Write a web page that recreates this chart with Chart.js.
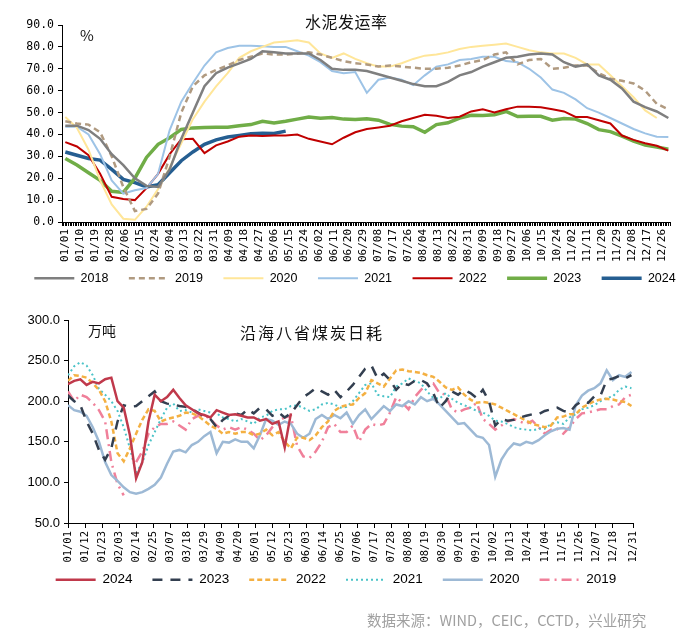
<!DOCTYPE html>
<html>
<head>
<meta charset="utf-8">
<script src="https://cdn.jsdelivr.net/npm/chart.js@4.4.1/dist/chart.umd.min.js"></script>
<style>
  body { margin: 0; background: #fff; }
  #page { position: relative; width: 700px; height: 643px; overflow: hidden; background: #fff; }
  canvas { position: absolute; left: 0; }
  #c1 { top: 0; }
  #c2 { top: 300px; }
  .txt { position: absolute; font-family: "Noto Sans CJK SC", sans-serif; color: #111; white-space: nowrap; line-height: 1; }
</style>
</head>
<body>
<div id="page">
  <canvas id="c1" width="700" height="300"></canvas>
  <canvas id="c2" width="700" height="310"></canvas>
  <div class="txt" style="left:305px;top:13px;font-size:16px;letter-spacing:0.5px;">水泥发运率</div>
  <div class="txt" style="left:80px;top:27px;font-size:15px;">%</div>
  <div class="txt" style="left:240px;top:324px;font-size:16px;letter-spacing:2px;">沿海八省煤炭日耗</div>
  <div class="txt" style="left:88px;top:323px;font-size:14px;">万吨</div>
  <div class="txt" style="left:367px;top:613px;font-size:14.5px;color:#a0a0a0;">数据来源：WIND，CEIC，CCTD，兴业研究</div>
</div>
<script>
// ---- top chart: cement shipment rate (%), weekly points, x = day of year
const TOP_DAYS = [0,7,14,21,28,35,42,49,56,63,70,77,84,91,98,105,112,119,126,133,140,147,154,161,168,175,182,189,196,203,210,217,224,231,238,245,252,259,266,273,280,287,294,301,308,315,322,329,336,343,350,357,364];
const TOP_TICK_LABELS = ['01/01','01/10','01/19','01/28','02/06','02/15','02/24','03/04','03/13','03/22','03/31','04/09','04/18','04/27','05/06','05/15','05/24','06/02','06/11','06/20','06/29','07/08','07/17','07/26','08/04','08/13','08/22','08/31','09/09','09/18','09/27','10/06','10/15','10/24','11/02','11/11','11/20','11/29','12/08','12/17','12/26'];

const CEMENT_2018 = [44,44,42,38,31,26,20,16.5,16,24,38,50,62,68,70.5,72.5,74.5,78,77.5,77,77,77,74,70,69.5,69.5,69,67.5,66,64.5,63,62,62,64,67,68.5,71,73,75,75.5,76.5,77,76.5,73,71,72,67,65,61,55,52.5,50.5,47.5];
const CEMENT_2019 = [46,45,44.5,41,30,16,5,6,13,30,50,62,67,69.5,71.5,74,75.5,77,76.5,76.5,77,77.5,76.5,75,73.5,72.5,72,71,71.5,71,70.5,70,70,70.5,71.5,73,74,76.5,77.5,72,74,74.5,70,70.5,71.5,71.5,68,65.5,64.5,63.3,60,54,51.5];
const CEMENT_2020 = [48,43,33,19,8,1.5,1,7,15,25,36,47,55,62,68,75,78,80,82,82.5,83,82,77,75,77,74.5,72.5,71,71,72.5,74.5,76,76.5,77.5,79,80,80.5,81,81.5,80,78.5,77.5,77,77,75,72,72,67,62,57,51,47.5,null];
const CEMENT_2021 = [43.5,43.5,40,31,19,13,14.5,15.5,22,42,55,63.5,71.5,77.5,79.5,80.5,80.5,80.3,80,80,78,76,73,69,68,68.5,59,65,66,65,62.5,67,71,72,74,74.5,75.5,75.5,73.5,73,70,66,60.5,59,56,52,50,47.5,45,42.5,40.5,39,38.8];
const CEMENT_2022 = [36.5,34.5,30.5,22,11.5,10.5,10,15.5,22,31,37.8,38,31.5,35,36.8,39,39.5,39.3,39.5,39.5,40,38,36.8,35.5,38.5,41,42.5,43.2,44,46,47.5,49,48.5,47.5,48.1,50.5,51.5,50,51.5,52.7,52.6,52.4,51.5,50.5,48,48,46.5,45,39.5,37.5,36,34.8,32.6];
const CEMENT_2023 = [29,26,22.5,19,14,13.5,20,29.5,35.5,38.5,42.3,43,43.2,43.3,43.3,44,44.5,46,45.2,46,47,48,47.4,47.7,47,46.8,47.2,46.5,44.6,43.8,43.5,41,44.5,45.3,47.5,48.8,48.6,49,50.5,48.2,48.3,48.3,46.5,47.3,47,45,42.2,41.3,39.2,37,35.2,34.3,33.2];
const CEMENT_2024 = [32,30.5,29,28.3,24,19.5,18,16,17,22.5,28,32,35.5,37.5,38.8,39.5,40.3,40.5,40.4,41.5];

// ---- bottom chart: coastal 8 provinces daily coal burn (10k t), every 4 days
const BOTTOM_DAYS = [0,4,8,12,16,20,24,28,32,36,40,44,48,52,56,60,64,68,72,76,80,84,88,92,96,100,104,108,112,116,120,124,128,132,136,140,144,148,152,156,160,164,168,172,176,180,184,188,192,196,200,204,208,212,216,220,224,228,232,236,240,244,248,252,256,260,264,268,272,276,280,284,288,292,296,300,304,308,312,316,320,324,328,332,336,340,344,348,352,356,360,364];
const BOTTOM_TICK_DAYS = [0,11,22,33,44,55,66,77,88,99,110,121,132,143,154,165,176,187,198,209,220,231,242,253,264,275,286,297,308,319,330,341,352,365];
const BOTTOM_TICK_LABELS = ['01/01','01/12','01/23','02/03','02/14','02/25','03/07','03/18','03/29','04/09','04/20','05/01','05/12','05/23','06/03','06/14','06/25','07/06','07/17','07/28','08/08','08/19','08/30','09/10','09/21','10/02','10/13','10/24','11/04','11/15','11/26','12/07','12/18','12/31'];

const COAL_2024 = [221,225,227,220,224,222,227,229,200,192,
  158,105,125,175,208,200,205,214,204,195,
  190,185,183,180,189,186,183,184,182,180,
  180,176,178,172,175,143,185];
const COAL_2023 = [207,200,195,175,160,140,128,142,175,195,
  193,194,200,206,212,200,197,196,194,193,
  190,186,181,178,168,177,182,185,183,190,
  185,192,190,182,186,180,185,195,205,210,
  216,212,208,214,205,212,220,230,240,244,
  228,234,226,214,222,220,225,226,222,210,
  192,200,212,208,214,210,204,214,200,170,
  178,176,177,180,182,184,184,188,190,192,
  188,186,195,200,198,206,207,226,228,231,
  228,232];
const COAL_2022 = [225,232,231,229,222,214,200,175,136,126,
  142,160,177,190,188,175,178,180,182,186,
  185,182,176,170,166,160,162,160,162,162,
  158,160,165,158,162,150,142,155,155,152,
  158,168,175,188,193,195,196,204,210,226,
  222,218,228,238,239,237,236,235,232,230,
  224,217,214,217,208,202,198,199,198,196,
  192,188,184,180,176,172,170,168,170,180,
  181,184,184,192,196,200,202,203,202,200,
  199,194];
const COAL_2021 = [232,243,248,244,232,215,208,200,188,168,
  142,112,124,146,162,178,192,197,188,189,
  186,190,188,186,185,180,178,175,178,175,
  172,180,182,188,190,190,194,195,192,188,
  190,196,198,196,192,193,200,210,220,222,
  208,206,205,218,222,228,225,222,212,204,
  203,210,203,198,195,192,188,186,182,176,
  175,172,168,166,165,164,166,166,172,174,
  172,180,184,190,192,195,200,204,206,214,
  218,216];
const COAL_2020 = [195,189,187,182,168,150,125,109,102,94,
  88,86,88,92,97,106,123,138,140,137,
  146,150,157,162,136,150,149,153,150,150,
  142,158,178,176,171,175,172,160,155,160,
  178,183,178,183,179,186,172,183,190,178,
  186,194,188,196,194,200,196,205,200,203,
  196,188,180,172,173,165,157,155,146,107,
  128,140,148,146,150,148,152,158,163,166,
  167,165,195,207,213,216,222,238,226,232,
  230,236];
const COAL_2019 = [212,200,208,205,198,189,175,125,98,84,
  null,125,138,160,168,172,172,175,170,165,
  178,182,183,178,170,165,168,165,168,165,
  160,152,158,168,176,180,182,145,132,130,
  138,150,168,172,162,162,170,150,165,172,
  170,172,186,205,198,190,205,214,220,222,
  210,208,190,186,190,192,198,178,172,165,
  170,175,178,175,172,176,168,160,165,166,
  160,168,178,185,186,188,190,190,194,196,
  205,208];

const MONO = "'DejaVu Sans Mono', monospace";
const SANS = "'Liberation Sans', Arial, sans-serif";

function pts(days, vals) {
  return vals.map((v, i) => ({ x: days[i], y: v }));
}

function line(label, days, vals, color, width, dash) {
  return {
    label, data: pts(days, vals), borderColor: color, backgroundColor: color,
    borderWidth: width, borderDash: dash || [], pointRadius: 0, tension: 0, fill: false
  };
}

// legend shows each dataset's own stroke (dash, width)
function legendLabels(chart) {
  return chart.data.datasets.map((ds, i) => ({
    text: ds.label, datasetIndex: i, strokeStyle: ds.borderColor, fillStyle: ds.borderColor,
    lineWidth: ds.borderWidth, lineDash: ds.borderDash, pointStyle: 'line', fontColor: '#000'
  }));
}

function legendOpts(fontSize, pad) {
  return {
    position: 'bottom',
    labels: {
      usePointStyle: true, pointStyleWidth: 40, padding: pad, color: '#000',
      font: { family: SANS, size: fontSize }, generateLabels: legendLabels
    }
  };
}

// x axis box is kept short so the legend sits close; labels may run past it
function shortAxis(h) {
  return s => { s.height = h; s._computeLabelArea = () => null; };
}

// empty axis on the right, only reserves space so the plot ends where it should
function spacer(w) {
  return {
    position: 'right', display: true,
    afterFit: s => { s.width = w; },
    ticks: { display: false }, grid: { display: false }, border: { display: false }
  };
}

Chart.defaults.animation = false;

// Top chart
new Chart(document.getElementById('c1'), {
  type: 'line',
  data: {
    datasets: [
      line('2018', TOP_DAYS, CEMENT_2018, '#7f7f7f', 2.5),
      line('2019', TOP_DAYS, CEMENT_2019, '#b09a80', 2.5, [6, 4]),
      line('2020', TOP_DAYS, CEMENT_2020, '#ffe699', 2),
      line('2021', TOP_DAYS, CEMENT_2021, '#9dc3e6', 2),
      line('2022', TOP_DAYS, CEMENT_2022, '#c00000', 2),
      line('2023', TOP_DAYS, CEMENT_2023, '#70ad47', 3.5),
      line('2024', TOP_DAYS, CEMENT_2024, '#255e91', 3.5)
    ]
  },
  options: {
    responsive: false,
    events: [],
    layout: { padding: { left: 10, right: 0, top: 25, bottom: 5.5 } },
    plugins: { legend: legendOpts(12.5, 20.5), tooltip: { enabled: false } },
    scales: {
      x: {
        type: 'linear', min: -2, max: 365,
        afterFit: shortAxis(29.5),
        ticks: {
          stepSize: 1, autoSkip: false, minRotation: 90, maxRotation: 90, padding: 3,
          color: '#000', font: { family: MONO, size: 11 },
          callback: v => (v >= 0 && v % 9 === 0 && TOP_TICK_LABELS[v / 9]) || ''
        },
        grid: { drawOnChartArea: false, tickLength: 4, color: '#000' },
        border: { color: '#000' }
      },
      y: {
        min: 0, max: 90,
        afterFit: s => { s.width = 52; },
        ticks: { stepSize: 10, padding: 4, color: '#000', font: { family: MONO, size: 11.5 }, callback: v => v.toFixed(1) },
        grid: { drawOnChartArea: false, tickLength: 4, color: '#000' },
        border: { color: '#000' }
      },
      pad: spacer(30)
    }
  }
});

// Bottom chart
new Chart(document.getElementById('c2'), {
  type: 'line',
  data: {
    datasets: [
      line('2024', BOTTOM_DAYS, COAL_2024, '#c0394b', 2.5),
      line('2023', BOTTOM_DAYS, COAL_2023, '#333f50', 2.5, [10, 8]),
      line('2022', BOTTOM_DAYS, COAL_2022, '#f4b042', 2.5, [5, 3]),
      line('2021', BOTTOM_DAYS, COAL_2021, '#4bc3c8', 2, [2, 3]),
      line('2020', BOTTOM_DAYS, COAL_2020, '#9db9d5', 2.5),
      line('2019', BOTTOM_DAYS, COAL_2019, '#f0809a', 2.5, [10, 5, 2, 5])
    ]
  },
  options: {
    responsive: false,
    events: [],
    layout: { padding: { left: 0, right: 28, top: 20, bottom: 13.5 } },
    plugins: { legend: legendOpts(13.5, 20), tooltip: { enabled: false } },
    scales: {
      x: {
        type: 'linear', min: 0, max: 365,
        afterFit: shortAxis(30),
        afterBuildTicks: s => { s.ticks = BOTTOM_TICK_DAYS.map(v => ({ value: v })); },
        ticks: {
          autoSkip: false, minRotation: 90, maxRotation: 90, padding: 3,
          color: '#000', font: { family: MONO, size: 10.5 },
          callback: (v, i) => BOTTOM_TICK_LABELS[i]
        },
        grid: { drawOnChartArea: false, tickLength: 5, color: '#000' },
        border: { color: '#000' }
      },
      y: {
        min: 50, max: 300,
        afterFit: s => { s.width = 68; },
        ticks: { stepSize: 50, padding: 4, color: '#000', font: { family: SANS, size: 13 }, callback: v => v.toFixed(1) },
        grid: { drawOnChartArea: false, tickLength: 4, color: '#000' },
        border: { color: '#000' }
      },
      pad: spacer(39)
    }
  }
});
</script>
</body>
</html>
